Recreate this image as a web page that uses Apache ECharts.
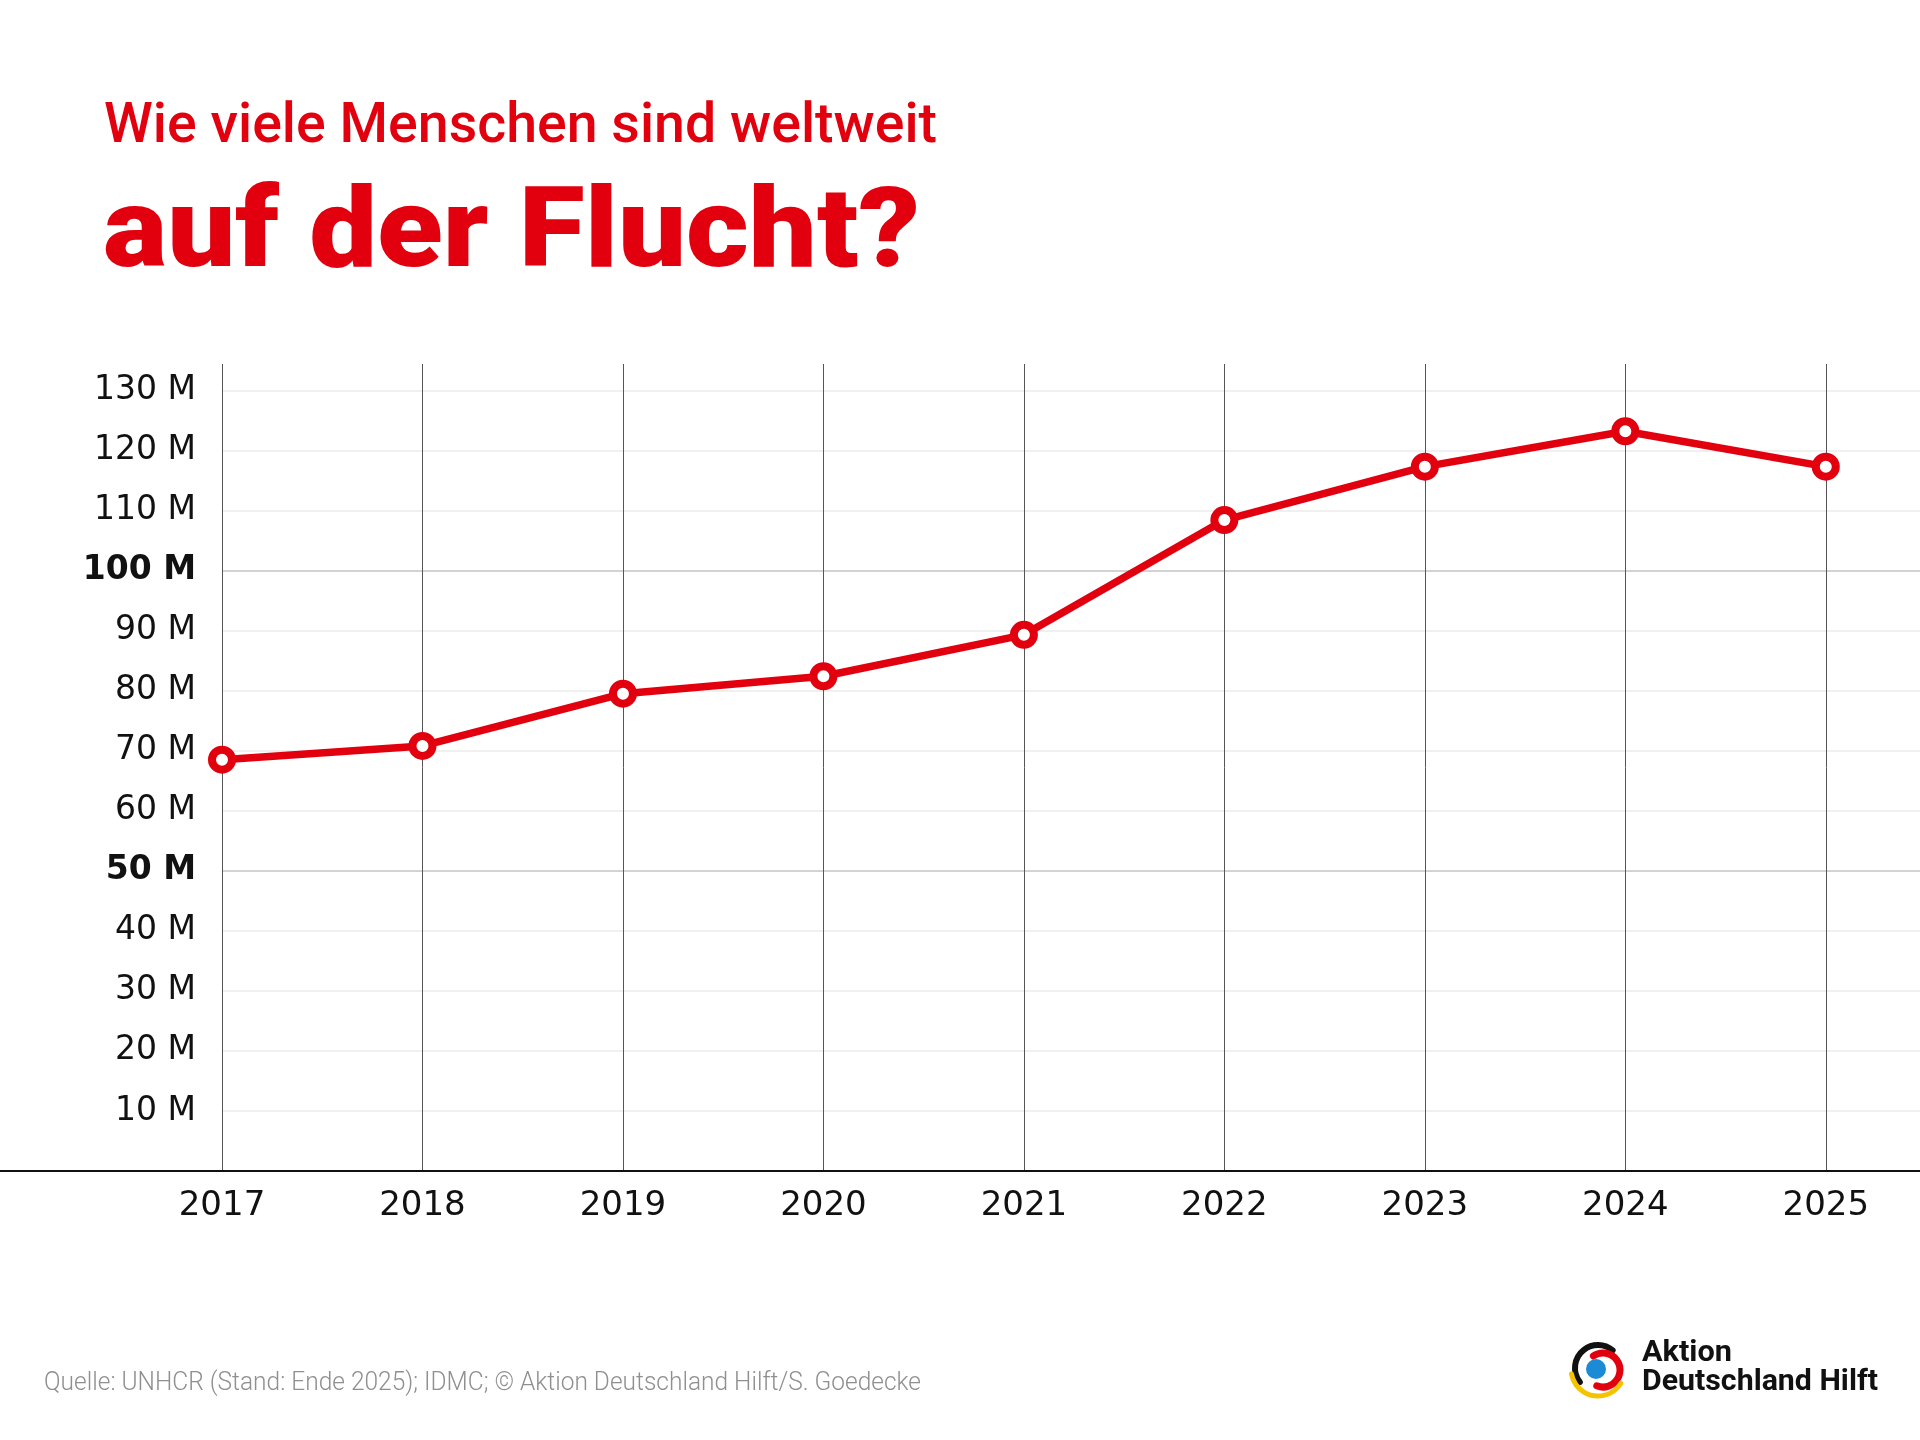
<!DOCTYPE html>
<html>
<head>
<meta charset="utf-8">
<title>Wie viele Menschen sind weltweit auf der Flucht?</title>
<script src="https://cdn.jsdelivr.net/npm/echarts@6/dist/echarts.min.js"></script>
<style>
  html, body { margin: 0; padding: 0; background: #fff; }
  #main { width: 1920px; height: 1440px; }
</style>
</head>
<body>
<div id="main"></div>
<script>
// Menschen auf der Flucht weltweit, in Millionen (UNHCR)
var years = [2017, 2018, 2019, 2020, 2021, 2022, 2023, 2024, 2025];
var displaced = [68.5, 70.8, 79.5, 82.4, 89.3, 108.4, 117.3, 123.2, 117.3];
var boldTicks = [50, 100];

var RED = '#e2000f';

var chart = echarts.init(document.getElementById('main'));

// squeeze a text to the width it has in the original (condensed font look)
var measureCtx = document.createElement('canvas').getContext('2d');
function squeezedText(str, font, width, x, y, fill) {
    measureCtx.font = font;
    var w = measureCtx.measureText(str).width;
    return {
        type: 'text', x: x, y: y, scaleX: width / w, scaleY: 1,
        style: { text: str, font: font, fill: fill, x: 0, y: 0, align: 'left', verticalAlign: 'top' }
    };
}

// light grid, darker at 50 M and 100 M
var gridColors = [];
for (var i = 0; i <= 13; i++) {
    gridColors.push(boldTicks.indexOf(i * 10) >= 0 ? '#c4c4c4' : '#ebebeb');
}

var option = {
    backgroundColor: '#fff',
    animation: false,
    grid: { left: 222, right: 0, top: 364, bottom: 269, containLabel: false },
    xAxis: {
        type: 'value',
        min: 2017,
        max: 2025.47,
        interval: 1,
        axisLine: { show: true, onZero: false, lineStyle: { color: '#111', width: 2 } },
        axisTick: { show: false },
        axisLabel: {
            showMaxLabel: false,
            margin: 18,
            color: '#111',
            fontSize: 34,
            fontFamily: 'DejaVu Sans',
            formatter: function (v) { return v % 1 === 0 ? String(v) : ''; }
        },
        splitLine: { show: true, showMaxLine: false, lineStyle: { color: '#555', width: 1 } }
    },
    yAxis: {
        type: 'value',
        min: 0,
        max: 134.4,
        interval: 10,
        axisLine: { show: false },
        axisTick: { show: false },
        axisLabel: {
            showMinLabel: false,
            showMaxLabel: false,
            margin: 26,
            color: '#111',
            fontSize: 33,
            fontFamily: 'DejaVu Sans',
            formatter: function (v) {
                return boldTicks.indexOf(v) >= 0 ? '{b|' + v + ' M}' : v + ' M';
            },
            rich: { b: { fontWeight: 'bold', fontSize: 33, color: '#111', fontFamily: 'DejaVu Sans' } }
        },
        splitLine: { show: true, showMaxLine: false, lineStyle: { color: gridColors, width: 1.5 } }
    },
    series: [{
        type: 'line',
        data: years.map(function (y, i) { return [y, displaced[i]]; }),
        lineStyle: { color: RED, width: 7.5 },
        symbol: 'circle',
        symbolSize: 20,
        itemStyle: { color: '#fff', borderColor: RED, borderWidth: 8 },
        z: 5
    }],
    graphic: [
        squeezedText('Wie viele Menschen sind weltweit', '500 56px Roboto', 833, 104, 100, RED),
        squeezedText('auf der Flucht?', '900 112px Roboto', 817, 103, 182, RED),
        // axis line runs out to the left edge
        { type: 'line', shape: { x1: 0, y1: 1171, x2: 222, y2: 1171 }, style: { stroke: '#111', lineWidth: 2 } },
        squeezedText('Quelle: UNHCR (Stand: Ende 2025); IDMC; \u00a9 Aktion Deutschland Hilft/S. Goedecke',
            '300 25px Roboto', 877, 44, 1371, '#8f8f8f'),
        // logo
        { type: 'arc', shape: { cx: 1598, cy: 1368, r: 23, startAngle: Math.PI * 0.79, endAngle: Math.PI * 1.72 }, style: { stroke: '#111', lineWidth: 6, fill: null, lineCap: 'round' } },
        { type: 'arc', shape: { cx: 1603, cy: 1370, r: 17, startAngle: -Math.PI * 0.69, endAngle: Math.PI * 0.62 }, style: { stroke: RED, lineWidth: 7, fill: null, lineCap: 'round' } },
        { type: 'arc', shape: { cx: 1598, cy: 1369, r: 27, startAngle: Math.PI * 0.18, endAngle: Math.PI * 0.94 }, style: { stroke: '#f5c400', lineWidth: 5, fill: null, lineCap: 'round' } },
        { type: 'circle', shape: { cx: 1596, cy: 1369, r: 10 }, style: { fill: '#1b8bd6' } },
        squeezedText('Aktion', 'bold 29px Roboto', 90, 1642, 1339, '#111'),
        squeezedText('Deutschland Hilft', 'bold 29px Roboto', 236, 1642, 1368, '#111')
    ]
};

chart.setOption(option);
</script>
</body>
</html>
